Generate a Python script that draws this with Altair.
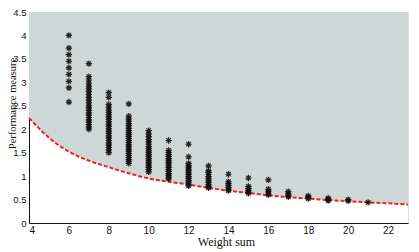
import altair as alt
import pandas as pd

# Lower bound curve
curve_x = [4, 5, 6, 7, 8, 9, 10, 11, 12, 13, 14, 15, 16, 17, 18, 19, 20, 21, 22, 23]
curve_y = [2.24, 1.82, 1.52, 1.33, 1.19, 1.06, 0.95, 0.88, 0.82, 0.75, 0.69, 0.64, 0.59,
           0.55, 0.52, 0.49, 0.465, 0.44, 0.42, 0.395]

# Scatter columns: weight sum -> performance values
col6 = [4.00, 3.73, 3.59, 3.45, 3.31, 3.17, 3.02, 2.88, 2.58]
col7 = [3.40, 3.12, 3.05, 2.98, 2.92, 2.86, 2.80, 2.74, 2.68, 2.62, 2.56, 2.50, 2.45,
        2.40, 2.35, 2.30, 2.25, 2.20, 2.15, 2.10, 2.05, 2.00]
col8 = [2.78, 2.68, 2.53, 2.47, 2.41, 2.36, 2.31, 2.26, 2.21, 2.16, 2.11, 2.06, 2.01,
        1.96, 1.91, 1.86, 1.81, 1.76, 1.71, 1.66, 1.61, 1.56, 1.50]
col9 = [2.54, 2.28, 2.22, 2.17, 2.12, 2.07, 2.02, 1.97, 1.92, 1.88, 1.84, 1.80, 1.76,
        1.72, 1.68, 1.64, 1.60, 1.56, 1.52, 1.48, 1.44, 1.40, 1.36, 1.32, 1.27]
col10 = [1.97, 1.90, 1.84, 1.78, 1.73, 1.68, 1.63, 1.58, 1.54, 1.50, 1.46, 1.42, 1.38,
         1.34, 1.30, 1.26, 1.22, 1.18, 1.14, 1.09]
col11 = [1.76, 1.55, 1.50, 1.46, 1.42, 1.38, 1.34, 1.30, 1.26, 1.22, 1.18, 1.14, 1.10,
         1.06, 1.02, 0.98, 0.94]
col12 = [1.68, 1.41, 1.27, 1.23, 1.19, 1.15, 1.11, 1.07, 1.03, 0.99, 0.95, 0.91, 0.87,
         0.83, 0.79]
col13 = [1.22, 1.11, 1.08, 1.04, 0.99, 0.94, 0.90, 0.86, 0.82, 0.78, 0.75]
col14 = [1.04, 0.88, 0.84, 0.80, 0.76, 0.72, 0.69]
col15 = [0.96, 0.78, 0.74, 0.70, 0.66, 0.63]
col16 = [0.92, 0.72, 0.68, 0.64, 0.60]
col17 = [0.67, 0.62, 0.59, 0.56]
col18 = [0.58, 0.55, 0.52]
col19 = [0.53, 0.50, 0.48]
col20 = [0.50, 0.47]
col21 = [0.44]

columns = {6: col6, 7: col7, 8: col8, 9: col9, 10: col10, 11: col11, 12: col12,
           13: col13, 14: col14, 15: col15, 16: col16, 17: col17, 18: col18,
           19: col19, 20: col20, 21: col21}

x_ticks = [4, 6, 8, 10, 12, 14, 16, 18, 20, 22]
y_ticks = [0, 0.5, 1, 1.5, 2, 2.5, 3, 3.5, 4, 4.5]

pts = pd.DataFrame([{"w": k, "p": v} for k, vals in columns.items() for v in vals])
cur = pd.DataFrame({"w": curve_x, "p": curve_y, "top": [4.5] * len(curve_x)})

xs = alt.Scale(domain=[4, 23], nice=False, zero=False)
ys = alt.Scale(domain=[0, 4.5], nice=False)

x_axis = alt.Axis(values=x_ticks, title="Weight sum", ticks=False, grid=False, format="~g",
                  labelFont="Liberation Sans", labelFontSize=10, labelColor="#111",
                  labelPadding=2, labelBaseline="top", labelOverlap=False,
                  domainColor="#111", titleFont="Liberation Serif",
                  titleFontSize=12, titleFontWeight="normal", titleColor="#111",
                  titleX=197, titleY=22.5, titleBaseline="alphabetic", titleAnchor="start",
                  titleAlign="center")
y_axis = alt.Axis(values=y_ticks, title="Performance measure", ticks=False, grid=False,
                  format="~g",
                  labelFont="Liberation Sans", labelFontSize=9.5, labelColor="#111",
                  labelPadding=3, labelOverlap=False, domainColor="#111",
                  titleFont="Liberation Serif",
                  titleFontSize=10.5, titleFontWeight="normal", titleColor="#111",
                  titleX=-14, titleY=91, titleAngle=-90, titleAlign="center",
                  titleBaseline="alphabetic", titleAnchor="start")

X = alt.X("w:Q", scale=xs, axis=x_axis)
Y = alt.Y("p:Q", scale=ys, axis=y_axis)

area = alt.Chart(cur).mark_area(color="#cdd7d5", interpolate="monotone", opacity=1).encode(
    x=X, y=Y, y2="top:Q",
)

line = alt.Chart(cur).mark_line(color="#ee2222", strokeWidth=2, strokeDash=[4, 2],
                                interpolate="monotone").encode(x=X, y=Y)

star = "M-1,0L1,0M0,-1L0,1M-0.7,-0.7L0.7,0.7M-0.7,0.7L0.7,-0.7"
points = alt.Chart(pts).mark_point(shape=star, filled=False, color="#111",
                                   strokeWidth=1.2, size=40, opacity=0.9).encode(x=X, y=Y)

chart = alt.layer(area, line, points).properties(
    width=379, height=211,
    autosize=alt.AutoSizeParams(type="none"),
    padding={"left": 21, "top": 4, "right": 2, "bottom": 30},
).configure_view(stroke="#888888", strokeWidth=1).configure(background="white")

chart.save("out.html", embed_options={"renderer": "svg", "actions": False})
